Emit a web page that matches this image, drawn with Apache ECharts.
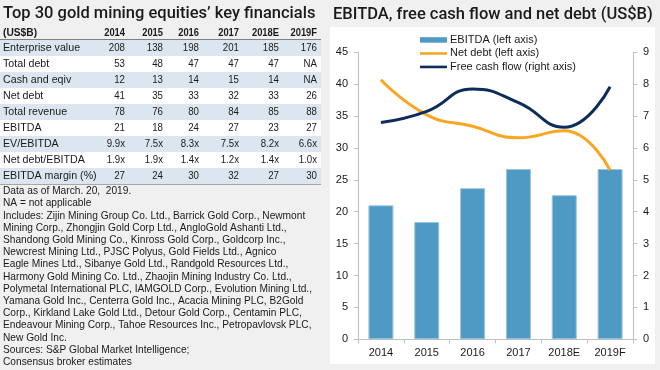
<!DOCTYPE html>
<html>
<head>
<meta charset="utf-8">
<script src="https://cdn.jsdelivr.net/npm/echarts@6/dist/echarts.min.js"></script>
<style>
html,body{margin:0;padding:0;background:#f0f0f0;}
#main{width:660px;height:370px;}
</style>
</head>
<body>
<div id="main"></div>
<script>
// ---------- Data ----------
const categories = ['2014', '2015', '2016', '2017', '2018E', '2019F'];
const ebitda = [21.0, 18.4, 23.7, 26.7, 22.6, 26.7];
const netDebt = [40.7, 35.2, 33.4, 31.6, 32.7, 26.5];
const freeCashFlow = [6.8, 7.15, 7.85, 7.42, 6.65, 7.92];
const leftAxisTicks = [0, 5, 10, 15, 20, 25, 30, 35, 40, 45];
const rightAxisTicks = [0, 1, 2, 3, 4, 5, 6, 7, 8, 9];

const leftTitle = 'Top 30 gold mining equities\u2019 key financials';
const rightTitle = 'EBITDA, free cash flow and net debt (US$B)';
const tableUnit = '(US$B)';
const tableYears = ['2014', '2015', '2016', '2017', '2018E', '2019F'];
const rowLabels = ['Enterprise value', 'Total debt', 'Cash and eqiv', 'Net debt', 'Total revenue',
  'EBITDA', 'EV/EBITDA', 'Net debt/EBITDA', 'EBITDA margin (%)'];
const enterpriseValue = ['208', '138', '198', '201', '185', '176'];
const totalDebt = ['53', '48', '47', '47', '47', 'NA'];
const cashEqiv = ['12', '13', '14', '15', '14', 'NA'];
const netDebtTable = ['41', '35', '33', '32', '33', '26'];
const totalRevenue = ['78', '76', '80', '84', '85', '88'];
const ebitdaTable = ['21', '18', '24', '27', '23', '27'];
const evEbitda = ['9.9x', '7.5x', '8.3x', '7.5x', '8.2x', '6.6x'];
const netDebtEbitda = ['1.9x', '1.9x', '1.4x', '1.2x', '1.4x', '1.0x'];
const ebitdaMargin = ['27', '24', '30', '32', '27', '30'];
const tableRows = [enterpriseValue, totalDebt, cashEqiv, netDebtTable, totalRevenue,
  ebitdaTable, evEbitda, netDebtEbitda, ebitdaMargin];
const notes = [
  'Data as of March. 20,  2019.',
  'NA = not applicable',
  'Includes: Zijin Mining Group Co. Ltd., Barrick Gold Corp., Newmont',
  'Mining Corp., Zhongjin Gold Corp Ltd., AngloGold Ashanti Ltd.,',
  'Shandong Gold Mining Co., Kinross Gold Corp., Goldcorp Inc.,',
  'Newcrest Mining Ltd., PJSC Polyus, Gold Fields Ltd., Agnico',
  'Eagle Mines Ltd., Sibanye Gold Ltd., Randgold Resources Ltd.,',
  'Harmony Gold Mining Co. Ltd., Zhaojin Mining Industry Co. Ltd.,',
  'Polymetal International PLC, IAMGOLD Corp., Evolution Mining Ltd.,',
  'Yamana Gold Inc., Centerra Gold Inc., Acacia Mining PLC, B2Gold',
  'Corp., Kirkland Lake Gold Ltd., Detour Gold Corp., Centamin PLC,',
  'Endeavour Mining Corp., Tahoe Resources Inc., Petropavlovsk PLC,',
  'New Gold Inc.',
  'Sources: S&P Global Market Intelligence;',
  'Consensus broker estimates'
];

// ---------- Layout / style ----------
const FONT = '"Liberation Sans", Arial, sans-serif';
const TXT = '#1a1a1a';
const colRight = [125, 163, 199, 239, 279, 317];
const tableRight = 321;
const headerY = 33;
const rowTop = 40;
const rowH = 16;
const barColor = '#4f9ac4';
const orange = '#f8a724';
const navy = '#0c2c5c';
const lineIcon = 'path://M0,0 M0,14 L280,14 L280,41 L0,41 Z M280,55';

const graphics = [];
graphics.push({ type: 'rect', z: -10, shape: { x: 330, y: 27, width: 325, height: 337 }, style: { fill: '#ffffff' } });
graphics.push({ type: 'text', x: 3, y: 14, style: { text: leftTitle, fontFamily: 'Roboto, ' + FONT, fontWeight: 500, fontSize: 16.5, fill: TXT, verticalAlign: 'middle', align: 'left' } });
graphics.push({ type: 'text', x: 333, y: 15, style: { text: rightTitle, fontFamily: 'Roboto, ' + FONT, fontWeight: 500, fontSize: 16.5, fill: TXT, verticalAlign: 'middle', align: 'left' } });
graphics.push({ type: 'text', x: 3, y: headerY, scaleX: 0.93, style: { text: tableUnit, fontFamily: FONT, fontWeight: 'bold', fontSize: 11, fill: TXT, verticalAlign: 'middle' } });
tableYears.forEach(function (yr, j) {
  graphics.push({ type: 'text', x: colRight[j], y: headerY, scaleX: 0.85, style: { text: yr, fontFamily: FONT, fontWeight: 'bold', fontSize: 11, fill: TXT, align: 'right', verticalAlign: 'middle' } });
});
rowLabels.forEach(function (lab, i) {
  const top = rowTop + i * rowH;
  graphics.push({ type: 'rect', z: -5, shape: { x: 0, y: top, width: tableRight, height: rowH }, style: { fill: i % 2 === 0 ? '#dce6f1' : '#ffffff' } });
  graphics.push({ type: 'text', x: 3, y: top + rowH / 2, scaleX: 0.97, style: { text: lab, fontFamily: FONT, fontSize: 11, fill: TXT, verticalAlign: 'middle' } });
  tableRows[i].forEach(function (v, j) {
    graphics.push({ type: 'text', x: colRight[j], y: top + rowH / 2, scaleX: 0.88, style: { text: v, fontFamily: FONT, fontSize: 11, fill: TXT, align: 'right', verticalAlign: 'middle' } });
  });
});
graphics.push({ type: 'line', shape: { x1: 0, y1: rowTop - 0.5, x2: tableRight, y2: rowTop - 0.5 }, style: { stroke: '#7f7f7f', lineWidth: 1 } });
graphics.push({ type: 'line', shape: { x1: 0, y1: rowTop + rowLabels.length * rowH + 0.5, x2: tableRight, y2: rowTop + rowLabels.length * rowH + 0.5 }, style: { stroke: '#a6a6a6', lineWidth: 1 } });
graphics.push({ type: 'text', x: 3, y: 185, scaleX: 0.924, style: { text: notes.join('\n'), fontFamily: FONT, fontSize: 11, lineHeight: 12.2, fill: TXT, verticalAlign: 'top' } });

const axisGray = '#bfbfbf';
const chart = echarts.init(document.getElementById('main'), null, { renderer: 'canvas' });
chart.setOption({
  backgroundColor: '#f0f0f0',
  animation: false,
  textStyle: { fontFamily: FONT },
  graphic: graphics,
  legend: {
    orient: 'vertical',
    left: 420,
    top: 33.2,
    padding: 0,
    itemWidth: 27,
    itemHeight: 5.5,
    itemGap: 0,
    itemStyle: { borderWidth: 0 },
    textStyle: { fontSize: 11, color: TXT, lineHeight: 13.5, fontFamily: FONT, padding: [0, 0, 0, -2] },
    data: [
      { name: 'EBITDA (left axis)', icon: 'rect' },
      { name: 'Net debt (left axis)', icon: lineIcon },
      { name: 'Free cash flow (right axis)', icon: lineIcon }
    ]
  },
  grid: { left: 358, right: 27, top: 52.3, bottom: 30.7, containLabel: false },
  xAxis: {
    type: 'category',
    data: categories,
    axisLine: { lineStyle: { color: axisGray } },
    axisTick: { show: true, length: 4, lineStyle: { color: axisGray } },
    axisLabel: { color: TXT, fontSize: 11, margin: 8 }
  },
  yAxis: [
    {
      type: 'value', min: leftAxisTicks[0], max: leftAxisTicks[leftAxisTicks.length - 1], interval: leftAxisTicks[1] - leftAxisTicks[0],
      axisLine: { show: true, lineStyle: { color: axisGray } },
      axisTick: { show: true, length: 4, lineStyle: { color: axisGray } },
      splitLine: { show: false },
      axisLabel: { color: TXT, fontSize: 11, margin: 10 }
    },
    {
      type: 'value', position: 'right', min: rightAxisTicks[0], max: rightAxisTicks[rightAxisTicks.length - 1], interval: rightAxisTicks[1] - rightAxisTicks[0],
      axisLine: { show: true, lineStyle: { color: axisGray } },
      axisTick: { show: true, length: 4, lineStyle: { color: axisGray } },
      splitLine: { show: false },
      axisLabel: { color: TXT, fontSize: 11, margin: 10 }
    }
  ],
  series: [
    {
      name: 'EBITDA (left axis)', type: 'bar', data: ebitda, barWidth: 25, yAxisIndex: 0,
      itemStyle: { color: barColor, borderColor: '#9cc5df', borderWidth: 1 }
    },
    {
      name: 'Net debt (left axis)', type: 'line', data: netDebt, yAxisIndex: 0, smooth: true, symbol: 'none',
      lineStyle: { color: orange, width: 3 }, itemStyle: { color: orange }
    },
    {
      name: 'Free cash flow (right axis)', type: 'line', data: freeCashFlow, yAxisIndex: 1, smooth: true, symbol: 'none',
      lineStyle: { color: navy, width: 3 }, itemStyle: { color: navy }
    }
  ]
});
</script>
</body>
</html>
